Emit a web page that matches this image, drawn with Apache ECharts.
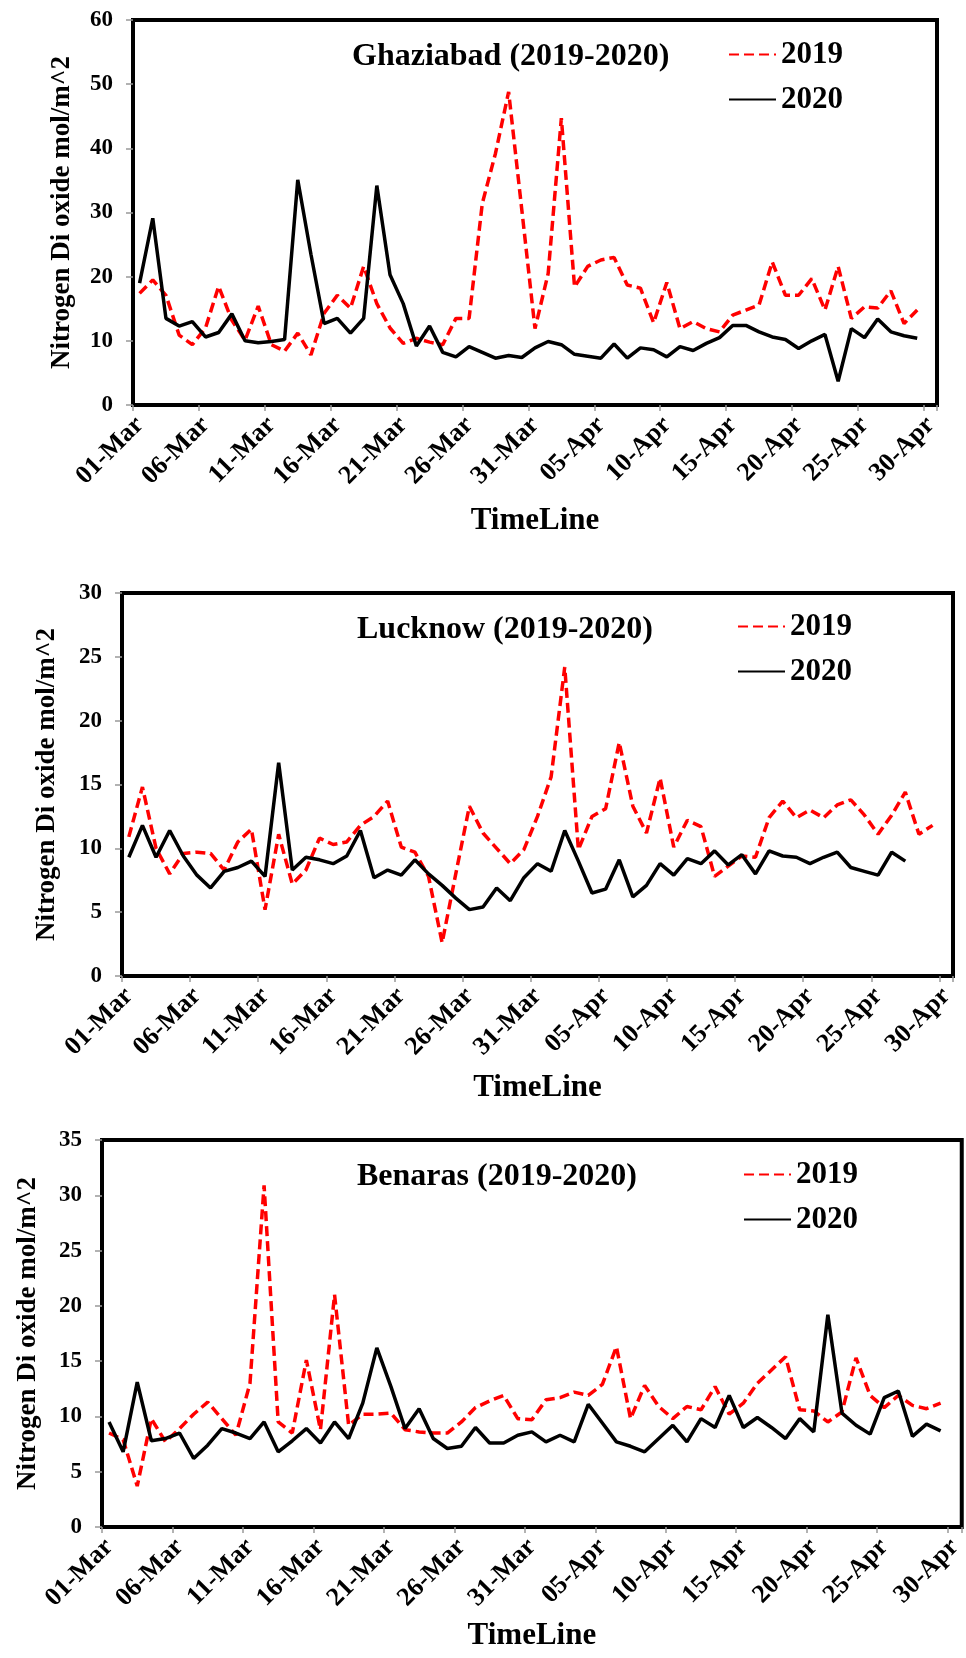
<!DOCTYPE html>
<html>
<head>
<meta charset="utf-8">
<script src="https://cdn.jsdelivr.net/npm/echarts@6/dist/echarts.min.js"></script>
<style>
  html, body { margin: 0; padding: 0; background: #fff; }
  #chart { width: 966px; height: 1658px; }
</style>
</head>
<body>
<div id="chart"></div>
<script>
// categories: 01-Mar .. 30-Apr
var days = [
	'01-Mar','02-Mar','03-Mar','04-Mar','05-Mar','06-Mar','07-Mar','08-Mar','09-Mar','10-Mar',
	'11-Mar','12-Mar','13-Mar','14-Mar','15-Mar','16-Mar','17-Mar','18-Mar','19-Mar','20-Mar',
	'21-Mar','22-Mar','23-Mar','24-Mar','25-Mar','26-Mar','27-Mar','28-Mar','29-Mar','30-Mar',
	'31-Mar','01-Apr','02-Apr','03-Apr','04-Apr','05-Apr','06-Apr','07-Apr','08-Apr','09-Apr',
	'10-Apr','11-Apr','12-Apr','13-Apr','14-Apr','15-Apr','16-Apr','17-Apr','18-Apr','19-Apr',
	'20-Apr','21-Apr','22-Apr','23-Apr','24-Apr','25-Apr','26-Apr','27-Apr','28-Apr','29-Apr',
	'30-Apr'
];

var ghaziabad2019 = [17.4, 19.5, 17.1, 10.9, 9.4, 12.0, 18.5, 13.2, 10.1, 15.4,
	9.4, 8.4, 11.2, 7.8, 14.3, 17.1, 15.1, 21.6, 15.8, 12.0,
	9.6, 10.4, 9.8, 9.4, 13.5, 13.5, 31.4, 39.2, 48.8, 30.4,
	11.9, 20.5, 44.7, 18.4, 21.6, 22.6, 23.0, 18.7, 18.2, 12.8,
	19.1, 11.9, 13.0, 11.9, 11.4, 14.0, 14.8, 15.6, 22.3, 17.1,
	17.1, 19.7, 14.8, 21.6, 13.5, 15.3, 15.1, 17.8, 12.7, 14.8];
var ghaziabad2020 = [19.0, 29.1, 13.5, 12.3, 13.0, 10.6, 11.3, 14.2, 10.0, 9.7,
	9.9, 10.2, 35.1, 23.5, 12.7, 13.5, 11.2, 13.5, 34.2, 20.3,
	15.8, 9.2, 12.3, 8.2, 7.5, 9.1, 8.2, 7.3, 7.7, 7.4,
	8.9, 9.9, 9.4, 7.9, 7.6, 7.3, 9.5, 7.3, 8.9, 8.6,
	7.5, 9.1, 8.5, 9.6, 10.5, 12.4, 12.4, 11.4, 10.6, 10.2,
	8.8, 10.0, 11.0, 3.7, 11.9, 10.5, 13.4, 11.4, 10.8, 10.4];

var lucknow2019 = [10.9, 14.8, 10.0, 8.0, 9.6, 9.7, 9.6, 8.3, 10.5, 11.5,
	5.2, 11.1, 7.2, 8.3, 10.8, 10.3, 10.5, 11.8, 12.5, 13.7,
	10.1, 9.7, 7.8, 2.6, 8.0, 13.3, 11.2, 10.0, 8.8, 9.9,
	12.5, 15.6, 24.2, 9.9, 12.5, 13.1, 18.3, 13.3, 11.2, 15.5,
	10.1, 12.2, 11.7, 7.8, 8.6, 9.4, 9.3, 12.4, 13.7, 12.4,
	13.0, 12.4, 13.4, 13.8, 12.6, 11.1, 12.6, 14.4, 11.1, 11.8];
var lucknow2020 = [9.3, 11.8, 9.3, 11.4, 9.4, 7.9, 6.9, 8.2, 8.5, 9.0,
	7.8, 16.7, 8.3, 9.3, 9.1, 8.8, 9.4, 11.4, 7.7, 8.3,
	7.9, 9.1, 8.0, 7.1, 6.1, 5.2, 5.4, 6.9, 5.9, 7.7,
	8.8, 8.2, 11.4, 9.0, 6.5, 6.8, 9.1, 6.2, 7.1, 8.8,
	7.9, 9.2, 8.8, 9.8, 8.7, 9.5, 8.0, 9.8, 9.4, 9.3,
	8.8, 9.3, 9.7, 8.5, 8.2, 7.9, 9.7, 9.0];

var benaras2019 = [8.5, 7.9, 3.7, 9.8, 7.7, 8.9, 10.2, 11.3, 9.8, 8.3,
	13.0, 30.9, 9.5, 8.5, 15.1, 8.8, 21.0, 9.2, 10.2, 10.2,
	10.3, 8.8, 8.6, 8.5, 8.5, 9.5, 10.8, 11.4, 11.9, 9.8,
	9.7, 11.5, 11.7, 12.2, 11.9, 12.9, 16.3, 9.8, 12.8, 10.9,
	9.8, 10.9, 10.6, 12.7, 10.2, 11.2, 13.0, 14.2, 15.4, 10.6,
	10.5, 9.5, 10.4, 15.3, 11.9, 10.8, 11.9, 11.0, 10.7, 11.2];
var benaras2020 = [9.5, 6.8, 13.1, 7.8, 8.0, 8.5, 6.2, 7.4, 8.9, 8.5,
	8.0, 9.5, 6.8, 7.8, 8.9, 7.6, 9.5, 8.0, 11.2, 16.2,
	12.7, 8.9, 10.7, 8.0, 7.1, 7.3, 9.0, 7.6, 7.6, 8.3,
	8.6, 7.7, 8.3, 7.7, 11.1, 9.4, 7.7, 7.3, 6.8, 8.0,
	9.2, 7.7, 9.8, 9.0, 11.9, 9.0, 9.9, 9.0, 8.0, 9.8,
	8.6, 19.2, 10.3, 9.2, 8.4, 11.7, 12.3, 8.2, 9.3, 8.7];

var titles = ['Ghaziabad (2019-2020)', 'Lucknow (2019-2020)', 'Benaras (2019-2020)'];
var yMax = [60, 30, 35];
var yStep = [10, 5, 5];
var yName = 'Nitrogen Di oxide mol/m^2';

var FONT = '"Liberation Serif", "Times New Roman", serif';

// layout per panel
var panels = [
	{ grid: {left: 133, top: 20, width: 804, height: 385}, title: [352, 41], legend: [728, 39], yGap: 57, xGap: 100 },
	{ grid: {left: 122, top: 593, width: 831, height: 383}, title: [357, 614], legend: [737, 611], yGap: 61, xGap: 96 },
	{ grid: {left: 102, top: 1140, width: 862, height: 387}, title: [357, 1161], legend: [743, 1159], yGap: 60, xGap: 93 }
];
var data2019 = [ghaziabad2019, lucknow2019, benaras2019];
var data2020 = [ghaziabad2020, lucknow2020, benaras2020];

var option = { animation: false, grid: [], xAxis: [], yAxis: [], title: [], legend: [], series: [] };

panels.forEach(function(p, i) {
	option.grid.push(Object.assign({ show: true, borderColor: '#000', borderWidth: 4, backgroundColor: '#fff' }, p.grid));
	option.title.push({
		text: titles[i], left: p.title[0], top: p.title[1], padding: 0,
		textStyle: { fontFamily: FONT, fontWeight: 'bold', fontSize: 32, lineHeight: 32, color: '#000' }
	});
	option.legend.push({
		data: ['2019', '2020'], orient: 'vertical', left: p.legend[0], top: p.legend[1], padding: 0,
		itemWidth: 47, itemHeight: 14, itemGap: 14,
		itemStyle: { opacity: 0, borderWidth: 0 },
		textStyle: { fontFamily: FONT, fontWeight: 'bold', fontSize: 31, lineHeight: 31, color: '#000' }
	});
	option.xAxis.push({
		type: 'category', gridIndex: i, data: days, boundaryGap: true,
		axisLine: { show: false },
		axisTick: { show: true, interval: 4, length: 6, lineStyle: { color: '#999', width: 1.5 } },
		axisLabel: { interval: 4, rotate: 45, margin: 16, fontFamily: FONT, fontWeight: 'bold', fontSize: 26, color: '#000' },
		splitLine: { show: false },
		name: 'TimeLine', nameLocation: 'middle', nameGap: p.xGap,
		nameTextStyle: { fontFamily: FONT, fontWeight: 'bold', fontSize: 31, color: '#000' }
	});
	option.yAxis.push({
		type: 'value', gridIndex: i, min: 0, max: yMax[i], interval: yStep[i],
		axisLine: { show: false },
		axisTick: { show: true, length: 7, lineStyle: { color: '#999', width: 1.5 } },
		axisLabel: { margin: 20, fontFamily: FONT, fontWeight: 'bold', fontSize: 23, color: '#000' },
		splitLine: { show: false },
		name: yName, nameLocation: 'middle', nameGap: p.yGap,
		nameTextStyle: { fontFamily: FONT, fontWeight: 'bold', fontSize: 27, color: '#000' }
	});
	option.series.push({
		name: '2019', type: 'line', xAxisIndex: i, yAxisIndex: i, data: data2019[i],
		symbol: 'none', lineStyle: { color: '#ff0000', width: 3.5, type: [10, 5] }, itemStyle: { color: '#ff0000' }
	});
	option.series.push({
		name: '2020', type: 'line', xAxisIndex: i, yAxisIndex: i, data: data2020[i],
		symbol: 'none', lineStyle: { color: '#000', width: 3.5 }, itemStyle: { color: '#000' }
	});
});

var myChart = echarts.init(document.getElementById('chart'));
myChart.setOption(option);
</script>
</body>
</html>
